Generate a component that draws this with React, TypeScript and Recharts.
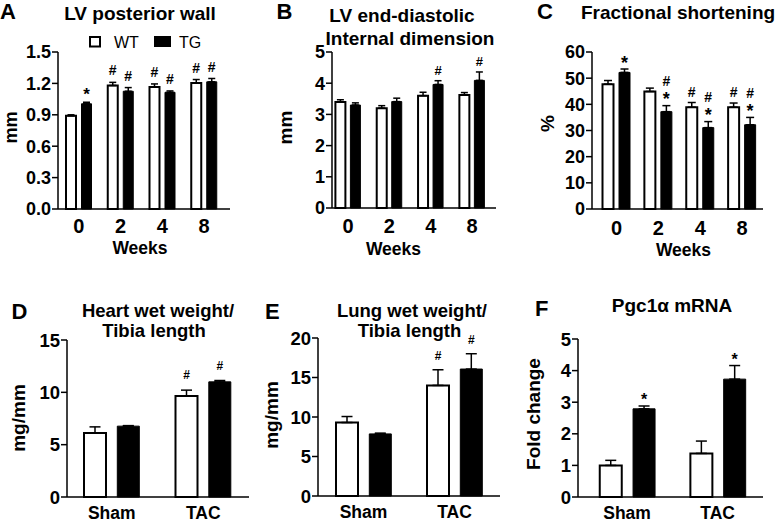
import React from 'react';
import { BarChart, Bar, XAxis, YAxis, ErrorBar, LabelList, Legend } from 'recharts';

const FONT = '"Liberation Sans", Arial, Helvetica, sans-serif';

// ---------- Panel A: LV posterior wall ----------
const weeks = ['0', '2', '4', '8'];
const lvpwWT = [0.89, 1.18, 1.165, 1.205];
const lvpwWTErr = [0.01, 0.03, 0.03, 0.032];
const lvpwTG = [1.005, 1.125, 1.115, 1.215];
const lvpwTGErr = [0.015, 0.035, 0.013, 0.032];
const lvpwWTAnn = ['', '#', '#', '#'];
const lvpwTGAnn = ['*', '#', '#', '#'];
const lvpwTicks = [0, 0.3, 0.6, 0.9, 1.2, 1.5];

// ---------- Panel B: LV end-diastolic internal dimension ----------
const lviddWT = [3.4, 3.2, 3.6, 3.62];
const lviddWTErr = [0.07, 0.08, 0.11, 0.08];
const lviddTG = [3.3, 3.41, 3.96, 4.09];
const lviddTGErr = [0.07, 0.11, 0.12, 0.27];
const lviddWTAnn = ['', '', '', ''];
const lviddTGAnn = ['', '', '#', '#'];
const lviddTicks = [0, 1, 2, 3, 4, 5];

// ---------- Panel C: Fractional shortening ----------
const fsWT = [47.7, 44.9, 38.9, 38.9];
const fsWTErr = [1.4, 1.3, 1.8, 1.6];
const fsTG = [52.2, 37.2, 31.1, 32.2];
const fsTGErr = [1.3, 2.3, 2.3, 2.8];
const fsWTAnn = ['', '', '#', '#'];
const fsTGAnn = ['*', '#|*', '#|*', '#|*'];
const fsTicks = [0, 10, 20, 30, 40, 50, 60];

// ---------- Panels D-F ----------
const groups = ['Sham', 'TAC'];

const hwWT = [6.12, 9.64];
const hwWTErr = [0.58, 0.57];
const hwTG = [6.77, 11.0];
const hwTGErr = [0.05, 0.13];
const hwWTAnn = ['', '#'];
const hwTGAnn = ['', '#'];
const hwTicks = [0, 5, 10, 15];

const lwWT = [9.3, 14.0];
const lwWTErr = [0.76, 1.98];
const lwTG = [7.86, 16.07];
const lwTGErr = [0.1, 1.94];
const lwWTAnn = ['', '#'];
const lwTGAnn = ['', '#'];
const lwTicks = [0, 5, 10, 15, 20];

const pgcWT = [1.0, 1.38];
const pgcWTErr = [0.16, 0.39];
const pgcTG = [2.79, 3.73];
const pgcTGErr = [0.09, 0.43];
const pgcWTAnn = ['', ''];
const pgcTGAnn = ['*', '*'];
const pgcTicks = [0, 1, 2, 3, 4, 5];

const seriesNames = ['WT', 'TG'];

type PanelProps = {
  left: number; top: number; width: number; height: number;
  marginTop: number; marginRight: number; yAxisWidth: number; xAxisHeight: number;
  cats: string[]; wt: number[]; wtErr: number[]; tg: number[]; tgErr: number[];
  wtAnn: string[]; tgAnn: string[];
  max: number; ticks: number[]; decimals: number;
  padL: number; padR: number; barSize: number; barGap: number; capHalf: number;
  xTickFont: number; xTickMargin: number; yTickFont: number;
  annGap: number; hashFont: number; hashWeight: number; starFont: number; lineStep: number;
  legend?: boolean;
};

const makeAnn = (vals: number[], errs: number[], p: PanelProps) => (props: any) => {
  const vb = props.viewBox ?? props;
  const { x, y, width, height } = vb;
  const i = props.index;
  const ann = props.value as string;
  if (!ann || i == null) return null;
  const pxPer = height / vals[i];
  const errTop = y - errs[i] * pxPer;
  const cx = x + width / 2;
  const lines = ann.split('|').reverse();
  const center = errTop - p.annGap;
  return (
    <g>
      {lines.map((s, k) => {
        const isStar = s === '*';
        const fs = isStar ? p.starFont : p.hashFont;
        const c = center - k * p.lineStep;
        const base = c + (isStar ? 0.6 : 0.36) * fs;
        return (
          <text key={k} x={cx} y={base} textAnchor="middle" fontSize={fs}
            fontWeight={isStar ? 700 : p.hashWeight} fontFamily={FONT} fill="#000">{s}</text>
        );
      })}
    </g>
  );
};

const LegendBox = () => (
  <svg width={120} height={16} style={{ display: 'block' }}>
    <rect x={3} y={3} width={10} height={9.5} fill="#fff" stroke="#000" strokeWidth={2} />
    <text x={27} y={14} fontSize={16} fontFamily={FONT} fill="#000">{seriesNames[0]}</text>
    <rect x={67} y={2} width={17} height={11} fill="#000" />
    <text x={92} y={14} fontSize={16} fontFamily={FONT} fill="#000">{seriesNames[1]}</text>
  </svg>
);

const Panel = (p: PanelProps) => {
  const rows = p.cats.map((c, i) => ({
    cat: c,
    wt: p.wt[i], tg: p.tg[i],
    wtE: [0, p.wtErr[i]], tgE: [0, p.tgErr[i]],
    wtAnn: p.wtAnn[i], tgAnn: p.tgAnn[i],
  }));
  const tickStyle = { fontSize: p.yTickFont, fontWeight: 700, fill: '#000', fontFamily: FONT };
  return (
    <div style={{ position: 'absolute', left: p.left, top: p.top }}>
      <BarChart width={p.width} height={p.height} data={rows}
        margin={{ top: p.marginTop, right: p.marginRight, left: 0, bottom: 0 }}
        barSize={p.barSize} barGap={p.barGap}>
        <XAxis dataKey="cat" tickLine={false} axisLine={{ stroke: '#000', strokeWidth: 1.5 }}
          tickSize={0} tickMargin={p.xTickMargin} height={p.xAxisHeight} interval={0}
          padding={{ left: p.padL, right: p.padR }}
          tick={{ fontSize: p.xTickFont, fontWeight: 700, fill: '#000', fontFamily: FONT }} />
        <YAxis type="number" domain={[0, p.max]} ticks={p.ticks} interval={0} width={p.yAxisWidth}
          axisLine={{ stroke: '#000', strokeWidth: 1.5 }} tickLine={{ stroke: '#000', strokeWidth: 1.5 }}
          tickSize={6} tickMargin={1} tick={tickStyle}
          tickFormatter={(v: number) => v.toFixed(p.decimals)} />
        {p.legend && (
          <Legend layout="horizontal" verticalAlign="middle" align="center"
            wrapperStyle={{ left: 87, top: 34, width: 120, height: 16 }}
            content={() => <LegendBox />} />
        )}
        <Bar dataKey="wt" name={seriesNames[0]} fill="#fff" stroke="#000" strokeWidth={2} isAnimationActive={false}>
          <ErrorBar dataKey="wtE" width={p.capHalf} stroke="#000" strokeWidth={1.5} direction="y" isAnimationActive={false} />
          <LabelList dataKey="wtAnn" content={makeAnn(p.wt, p.wtErr, p)} />
        </Bar>
        <Bar dataKey="tg" name={seriesNames[1]} fill="#000" stroke="#000" strokeWidth={1} isAnimationActive={false}>
          <ErrorBar dataKey="tgE" width={p.capHalf} stroke="#000" strokeWidth={1.5} direction="y" isAnimationActive={false} />
          <LabelList dataKey="tgAnn" content={makeAnn(p.tg, p.tgErr, p)} />
        </Bar>
      </BarChart>
    </div>
  );
};

const T = (props: any) => (
  <text fontFamily={FONT} fontWeight={700} fill="#000" {...props} />
);

const YLab = ({ x, y, children, fontSize = 19 }: any) => (
  <text x={x} y={y} transform={`rotate(-90 ${x} ${y})`} textAnchor="middle" fontFamily={FONT}
    fontWeight={700} fontSize={fontSize} fill="#000">{children}</text>
);

const commonTop = {
  xTickFont: 20, yTickFont: 18, hashFont: 14, hashWeight: 700, starFont: 17, lineStep: 13.5,
};
const commonBottom = {
  xTickFont: 17.5, yTickFont: 18.5, hashFont: 12, hashWeight: 700, starFont: 16, lineStep: 13.5,
  barSize: 22, barGap: 11.3, capHalf: 5.5, decimals: 0,
};

export default function App() {
  return (
    <div style={{ position: 'absolute', left: 0, top: 0, width: 777, height: 523, background: '#fff', overflow: 'hidden' }}>
      <Panel {...commonTop} left={0} top={0} width={240} height={260} marginTop={52} marginRight={10}
        yAxisWidth={58} xAxisHeight={51} cats={weeks}
        wt={lvpwWT} wtErr={lvpwWTErr} tg={lvpwTG} tgErr={lvpwTGErr} wtAnn={lvpwWTAnn} tgAnn={lvpwTGAnn}
        max={1.5} ticks={lvpwTicks} decimals={1} padL={0} padR={5} barSize={10} barGap={5.5} capHalf={3.5}
        xTickMargin={10} annGap={12} legend />
      <Panel {...commonTop} left={255} top={0} width={245} height={260} marginTop={52} marginRight={4}
        yAxisWidth={77} xAxisHeight={52} cats={weeks}
        wt={lviddWT} wtErr={lviddWTErr} tg={lviddTG} tgErr={lviddTGErr} wtAnn={lviddWTAnn} tgAnn={lviddTGAnn}
        max={5} ticks={lviddTicks} decimals={0} padL={-4.6} padR={3.3} barSize={10} barGap={5} capHalf={3.5}
        xTickMargin={11} annGap={10.5} hashFont={13} hashWeight={700} />
      <Panel {...commonTop} left={515} top={0} width={262} height={260} marginTop={52} marginRight={14}
        yAxisWidth={77} xAxisHeight={51} cats={weeks}
        wt={fsWT} wtErr={fsWTErr} tg={fsTG} tgErr={fsTGErr} wtAnn={fsWTAnn} tgAnn={fsTGAnn}
        max={60} ticks={fsTicks} decimals={0} padL={3.5} padR={0} barSize={11} barGap={5.5} capHalf={4}
        xTickMargin={11.5} annGap={11} hashFont={14} starFont={18} />
      <Panel {...commonBottom} left={0} top={260} width={255} height={263} marginTop={80} marginRight={6}
        yAxisWidth={67} xAxisHeight={26} cats={groups}
        wt={hwWT} wtErr={hwWTErr} tg={hwTG} tgErr={hwTGErr} wtAnn={hwWTAnn} tgAnn={hwTGAnn}
        max={15} ticks={hwTicks} padL={-1} padR={0} xTickMargin={9.5} annGap={15} />
      <Panel {...commonBottom} left={255} top={260} width={250} height={263} marginTop={78} marginRight={5}
        yAxisWidth={63} xAxisHeight={27} cats={groups}
        wt={lwWT} wtErr={lwWTErr} tg={lwTG} tgErr={lwTGErr} wtAnn={lwWTAnn} tgAnn={lwTGAnn}
        max={20} ticks={lwTicks} padL={0} padR={0} xTickMargin={10} annGap={14} />
      <Panel {...commonBottom} left={515} top={260} width={262} height={263} marginTop={79} marginRight={14}
        yAxisWidth={63} xAxisHeight={26} cats={groups}
        wt={pgcWT} wtErr={pgcWTErr} tg={pgcTG} tgErr={pgcTGErr} wtAnn={pgcWTAnn} tgAnn={pgcTGAnn}
        max={5} ticks={pgcTicks} padL={3.75} padR={0} xTickMargin={9.5} annGap={10.5} />

      <svg width={777} height={523} style={{ position: 'absolute', left: 0, top: 0, pointerEvents: 'none' }}>
        {/* panel letters */}
        <T x={0} y={18.5} fontSize={22}>A</T>
        <T x={276.5} y={18.5} fontSize={22}>B</T>
        <T x={537} y={18.5} fontSize={22}>C</T>
        <T x={11.5} y={318.5} fontSize={22}>D</T>
        <T x={265} y={318.5} fontSize={22}>E</T>
        <T x={535} y={315.5} fontSize={22}>F</T>
        {/* titles */}
        <T x={140} y={19.5} fontSize={19} textAnchor="middle">LV posterior wall</T>
        <T x={402} y={22} fontSize={19} textAnchor="middle">LV end-diastolic</T>
        <T x={410} y={45} fontSize={19} textAnchor="middle">Internal dimension</T>
        <T x={678} y={19} fontSize={19} textAnchor="middle">Fractional shortening</T>
        <T x={158} y={316.5} fontSize={18.5} textAnchor="middle">Heart wet weight/</T>
        <T x={154} y={337} fontSize={18.5} textAnchor="middle">Tibia length</T>
        <T x={412} y={316.5} fontSize={18.5} textAnchor="middle">Lung wet weight/</T>
        <T x={409.5} y={336.5} fontSize={18.5} textAnchor="middle">Tibia length</T>
        <T x={672} y={312} fontSize={19} textAnchor="middle">Pgc1α mRNA</T>
        {/* x axis titles */}
        <T x={140} y={253.5} fontSize={17.5} textAnchor="middle">Weeks</T>
        <T x={393.5} y={254.5} fontSize={17.5} textAnchor="middle">Weeks</T>
        <T x={683.5} y={256} fontSize={17.5} textAnchor="middle">Weeks</T>
        {/* y axis titles */}
        <YLab x={16.5} y={127.5} fontSize={18}>mm</YLab>
        <YLab x={292} y={127.5}>mm</YLab>
        <YLab x={554} y={123.5}>%</YLab>
        <YLab x={24.5} y={418}>mg/mm</YLab>
        <YLab x={277.5} y={415}>mg/mm</YLab>
        <YLab x={539.5} y={414}>Fold change</YLab>
      </svg>
    </div>
  );
}
